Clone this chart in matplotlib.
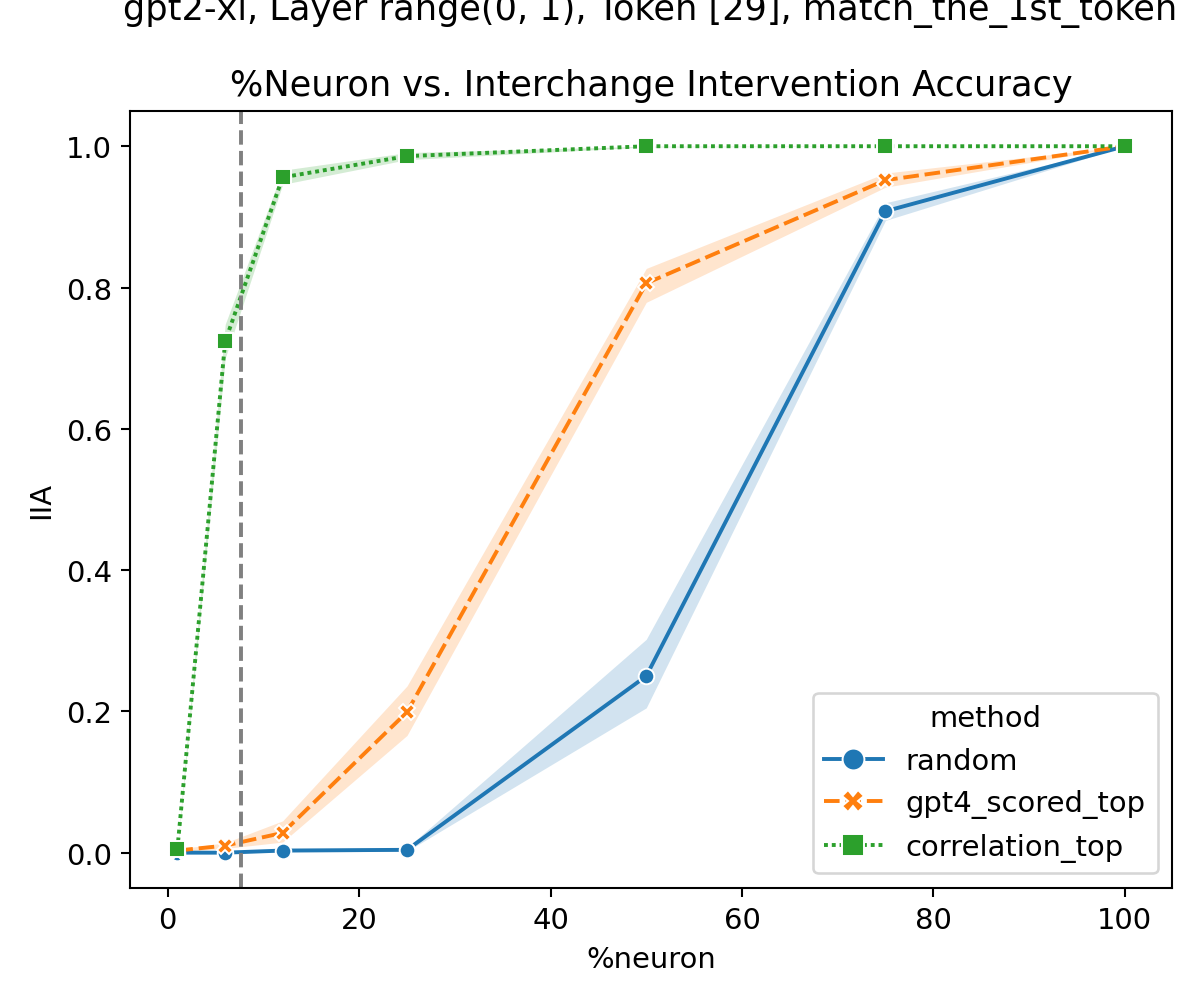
import matplotlib
matplotlib.use("Agg")
import matplotlib.pyplot as plt

# %neuron levels and mean IIA per method, with CI bands
pct = [1, 6, 12, 25, 50, 75, 100]
methods = ["random", "gpt4_scored_top", "correlation_top"]

random_iia = [0.0, 0.0, 0.003, 0.004, 0.25, 0.908, 1.0]
random_lo = [0.0, 0.0, 0.001, 0.002, 0.205, 0.895, 1.0]
random_hi = [0.001, 0.002, 0.005, 0.007, 0.302, 0.92, 1.0]

gpt4_iia = [0.003, 0.01, 0.028, 0.199, 0.806, 0.952, 1.0]
gpt4_lo = [0.001, 0.006, 0.015, 0.166, 0.779, 0.942, 1.0]
gpt4_hi = [0.005, 0.014, 0.045, 0.236, 0.827, 0.962, 1.0]

corr_iia = [0.005, 0.724, 0.956, 0.986, 1.0, 1.0, 1.0]
corr_lo = [0.003, 0.70, 0.946, 0.981, 0.999, 1.0, 1.0]
corr_hi = [0.007, 0.748, 0.966, 0.991, 1.0, 1.0, 1.0]

cutoff = 7.6

series = [
    (random_iia, random_lo, random_hi, "#1f77b4", "o", (None, None)),
    (gpt4_iia, gpt4_lo, gpt4_hi, "#ff7f0e", "X", (4, 1.5)),
    (corr_iia, corr_lo, corr_hi, "#2ca02c", "s", (1, 1)),
]

plt.rcParams["font.size"] = 11.2

fig = plt.figure(figsize=(1196 / 187, 1001 / 187), dpi=187)
ax = fig.add_axes([0.1087, 0.1119, 0.8713, 0.7763])

for name, (y, lo, hi, c, m, d) in zip(methods, series):
    ax.fill_between(pct, lo, hi, color=c, alpha=0.2, linewidth=0)
    ln, = ax.plot(pct, y, color=c, marker=m, markeredgecolor="white",
                  markeredgewidth=0.75, lw=1.5, label=name)
    if d[0] is not None:
        ln.set_dashes(d)

ax.axvline(cutoff, color="gray", ls="--")

ax.set_xlim(-3.95, 104.95)
ax.set_ylim(-0.05, 1.05)
ax.set_xlabel("%neuron")
ax.set_ylabel("IIA")
ax.set_title("%Neuron vs. Interchange Intervention Accuracy", fontsize=13.5)
fig.text(0.544, 0.98, "gpt2-xl, Layer range(0, 1), Token [29], match_the_1st_token",
         ha="center", va="baseline", fontsize=13.5)
ax.legend(title="method", loc="lower right", markerscale=1.4)

fig.savefig("out.png", dpi=187)
